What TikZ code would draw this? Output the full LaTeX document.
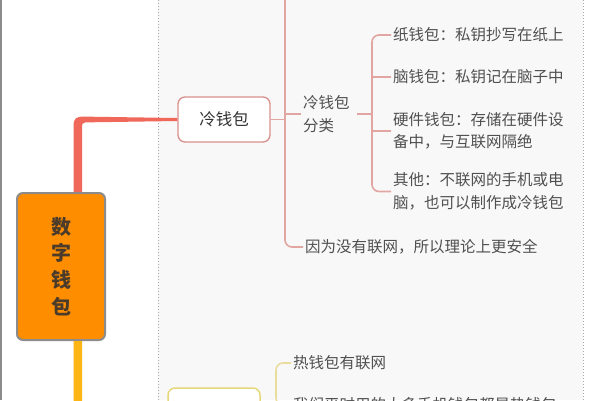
\documentclass[tikz,border=0pt]{standalone}
\usepackage{fontspec}
\setmainfont{Noto Sans CJK SC}
\definecolor{rootfill}{HTML}{FF8D00}
\definecolor{rootdraw}{HTML}{8C8C8C}
\definecolor{roottext}{HTML}{4A3B2A}
\definecolor{coldthick}{HTML}{F0685A}
\definecolor{coldbox}{HTML}{D9908C}
\definecolor{coldthin}{HTML}{E2A6A2}
\definecolor{hotthick}{HTML}{FDB515}
\definecolor{hotbox}{HTML}{E6D77A}
\definecolor{hotthin}{HTML}{E9DD9C}
\definecolor{txt}{HTML}{505050}
\definecolor{midbg}{HTML}{F8F8F9}
\tikzset{
  rootbox/.style={draw=rootdraw, line width=2pt, fill=rootfill, rounded corners=6pt,
    minimum width=88pt, minimum height=147pt, align=center, text=roottext,
    font=\fontsize{20}{26.7}\selectfont\bfseries, inner sep=0pt},
  coldnode/.style={draw=coldbox, line width=1.3pt, fill=white, rounded corners=7pt,
    minimum width=92pt, minimum height=45pt, text=black!80, font=\fontsize{16.5}{20}\selectfont, inner sep=0pt},
  hotnode/.style={draw=hotbox, line width=1.5pt, fill=white, rounded corners=7pt,
    minimum width=92pt, minimum height=45pt, inner sep=0pt},
  leaf/.style={anchor=west, text=txt, align=left, inner xsep=2pt, inner ysep=0pt,
    font=\fontsize{15.5}{22.5}\selectfont},
  coldline/.style={draw=coldthin, line width=1.6pt, rounded corners=7pt},
  hotline/.style={draw=hotthin, line width=1.6pt, rounded corners=7pt},
  divider/.style={draw=black!35, line width=0.8pt, dash pattern=on 1.2pt off 1.8pt}
}
\begin{document}
\begin{tikzpicture}[x=1pt,y=-1pt]
\useasboundingbox (0,0) rectangle (600,400);
\fill[white] (0,0) rectangle (600,400);
\fill[midbg] (158,0) rectangle (583,400);
\draw[divider] (158,0) -- (158,400);
\draw[divider] (583,0) -- (583,400);
\draw[black!45, line width=1.6pt] (0.8,0) -- (0.8,400);

% nodes
\node[rootbox] (root) at (61,266.5) {数\\字\\钱\\包};
\node[coldnode] (cold) at (224,119.5) {冷钱包};
\node[hotnode] (hot) at (214,410.5) {};

\node[leaf] (cls) at (301,114) {冷钱包\\分类};
\node[leaf] (p1) at (391,35) {纸钱包：私钥抄写在纸上};
\node[leaf] (p2) at (391,77) {脑钱包：私钥记在脑子中};
\node[leaf] (p3) at (391,131) {硬件钱包：存储在硬件设\\备中，与互联网隔绝};
\node[leaf] (p4) at (391,191.5) {其他：不联网的手机或电\\脑，也可以制作成冷钱包};
\node[leaf] (safe) at (303,247) {因为没有联网，所以理论上更安全};

\node[leaf] (h1) at (291,363) {热钱包有联网};
\node[leaf] (h2) at (291,405) {我们平时用的大多手机钱包都是热钱包};

\coordinate (cv) at (285,0);
\coordinate (bx) at (372,0);
\coordinate (hx) at (276,0);

% thick branch to cold wallet
\fill[coldthick] ([xshift=12.5pt]root.north) -- (73.5,127)
  .. controls (73.5,118) and (76,116.6) .. (84,116.6)
  -- ([yshift=1.5pt]cold.west) -- ([yshift=-1.5pt]cold.west)
  -- (85,122.4) .. controls (82.3,122.4) and (82,124) .. (82,129)
  -- ([xshift=21pt]root.north) -- cycle;

% thick branch to hot wallet
\fill[hotthick] ([xshift=12.5pt]root.south) -- (73.5,402)
  .. controls (73.5,411) and (76,412.9) .. (84,412.9)
  -- ([yshift=-1.5pt]hot.west) -- ([yshift=1.5pt]hot.west)
  -- (85,408) .. controls (82.3,408) and (82,406) .. (82,401)
  -- ([xshift=21pt]root.south) -- cycle;

% cold wallet subtree
\draw[coldline] (cold.east) -- (cold.east -| cv);
\draw[coldline] (cv) |- (safe.west);
\draw[coldline] (cv |- cls.west) -- (cls.west);
\draw[coldline] ([xshift=5pt]cls.east) -- (bx |- cls.east);
\draw[coldline] (p1.west) -| (bx |- p4.west) -- (p4.west);
\draw[coldline] (bx |- p2.west) -- (p2.west);
\draw[coldline] (bx |- p3.west) -- (p3.west);

% hot wallet subtree
\draw[hotline] (hot.east) -- (hot.east -| hx);
\draw[hotline] (h1.west) -| (hx |- h2.west) -- (h2.west);
\end{tikzpicture}
\end{document}
